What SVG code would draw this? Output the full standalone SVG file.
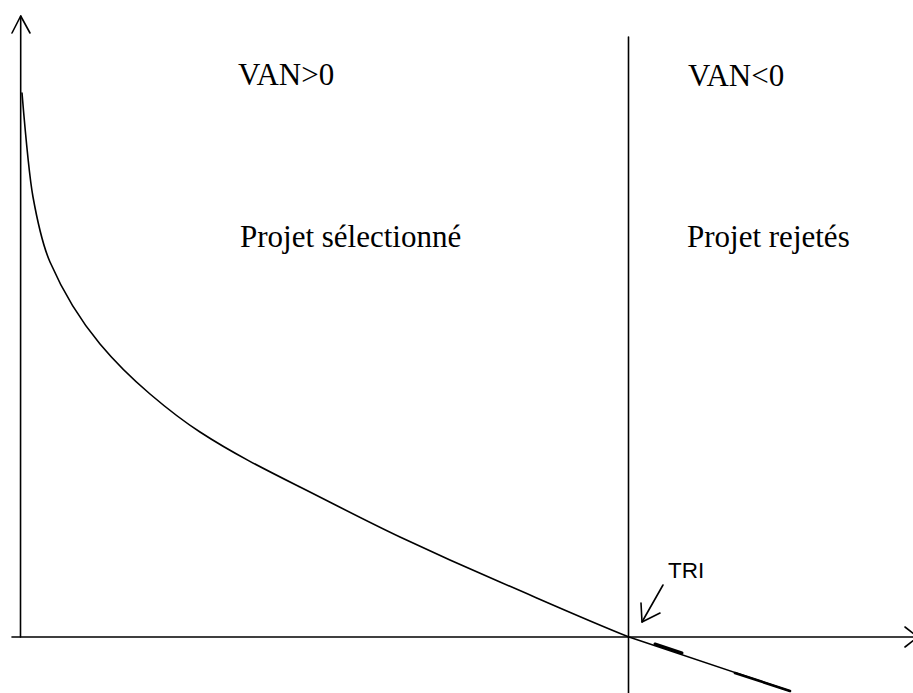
<svg xmlns="http://www.w3.org/2000/svg" width="913" height="693" viewBox="0 0 913 693">
  <style>
    .ln { fill: none; stroke: #000; stroke-width: 1.6; stroke-linecap: round; stroke-linejoin: round; }
    .lbl { font-family: "Liberation Serif", "Times New Roman", serif; font-size: 31px; fill: #000; }
    .tri { font-family: "Liberation Sans", Arial, sans-serif; font-size: 22.5px; fill: #000; }
  </style>
  <rect width="913" height="693" fill="#fff"/>

  <g id="axes">
    <!-- vertical axis with arrowhead -->
    <path class="ln" d="M20.7,16 L20.5,637"/>
    <path class="ln" d="M12,33 L20.7,16 L30,33"/>
    <!-- horizontal axis with arrowhead -->
    <path class="ln" d="M12,637 L918,637"/>
    <path class="ln" d="M905,627 L918,637 L905,647"/>
  </g>

  <g id="divider">
    <path class="ln" d="M628.5,37 L628.5,693"/>
  </g>

  <g id="connectors">
    <!-- NPV curve, continued past the IRR point -->
    <path class="ln" d="M22,93 C25.67,137 29.33,176.8 33,197 C38.67,228.2 44.33,249 50,262 C66.67,300.3 83.33,324 100,344 C116.67,364 133.33,379.8 150,394 C166.67,408.2 183.33,421.2 200,432 C233.33,453.7 266.67,470.3 300,487 C333.33,503.7 366.67,521.3 400,537 C433.33,552.7 466.67,567.7 500,582 C543,600.5 586,619.8 629,637 L790,691"/>
    <path class="ln" d="M655,644 L682,653" style="stroke-width:3"/>
    <path class="ln" d="M735,673 L790,691" style="stroke-width:2.6"/>
    <!-- IRR pointer -->
    <path class="ln" d="M663,585 L642,622"/>
    <path class="ln" d="M641,603 L642,622 L660,613"/>
  </g>

  <g id="label-van-pos"><text class="lbl" x="238" y="85">VAN&gt;0</text></g>
  <g id="label-van-neg"><text class="lbl" x="688" y="86">VAN&lt;0</text></g>
  <g id="label-selected"><text class="lbl" x="240" y="247">Projet sélectionné</text></g>
  <g id="label-rejected"><text class="lbl" x="687" y="247">Projet rejetés</text></g>
  <g id="label-tri"><text class="tri" x="668" y="578">TRI</text></g>
</svg>
